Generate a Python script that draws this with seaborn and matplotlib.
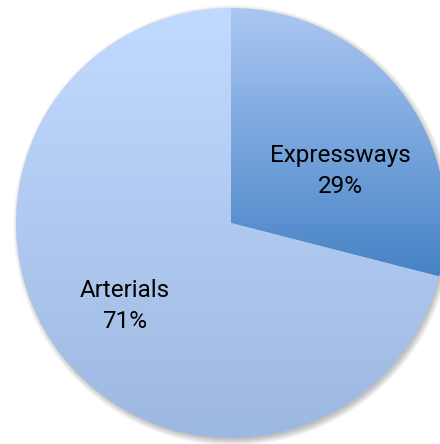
import numpy as np
import matplotlib
matplotlib.use("Agg")
import matplotlib.pyplot as plt
import seaborn as sns
from matplotlib.colors import LinearSegmentedColormap

categories = ["Expressways", "Arterials"]
shares = [29, 71]

sns.set_theme(style="white")
plt.rcParams["font.family"] = ["Roboto", "DejaVu Sans"]

W, H = 440, 444
fig = plt.figure(figsize=(W / 100, H / 100), dpi=100)
ax = fig.add_axes([0, 0, 1, 1])

cx, cy, R = 231, H - 223, 215

# soft drop shadow under the pie
yy, xx = np.mgrid[0:H, 0:W]
yy = H - yy - 0.5
xx = xx + 0.5
d = np.hypot(xx - (cx + 2), yy - (cy - 3)) - R
alpha = np.clip(1 - (d + 2) / 7, 0, 1) * 0.45
shadow = np.zeros((H, W, 4))
shadow[..., :3] = 0.45
shadow[..., 3] = alpha
ax.imshow(shadow, extent=[0, W, 0, H], origin="upper", zorder=0)

wedges, _ = ax.pie(shares, startangle=90, counterclock=False,
                   center=(cx, cy), radius=R, frame=True,
                   wedgeprops=dict(linewidth=0))
ax.set_xlim(0, W)
ax.set_ylim(0, H)
ax.set_aspect("equal")
ax.axis("off")

gradients = {
    "Expressways": ("#abc7f3", "#4683c6"),
    "Arterials": ("#c3daff", "#9db8e1"),
}
for w, name in zip(wedges, categories):
    w.set_facecolor("none")
    w.set_edgecolor("none")
    top, bottom = gradients[name]
    cmap = LinearSegmentedColormap.from_list(name, [top, bottom])
    bb = w.get_path().get_extents(w.get_transform() - ax.transData)
    grad = np.linspace(0, 1, 256).reshape(-1, 1)
    im = ax.imshow(grad, cmap=cmap, aspect="auto",
                   extent=[bb.x0, bb.x1, bb.y0, bb.y1], origin="upper",
                   zorder=1)
    im.set_clip_path(w)

label_pos = {"Expressways": (340, H - 171), "Arterials": (125, H - 306)}
for name, val in zip(categories, shares):
    x, y = label_pos[name]
    ax.text(x, y, f"{name}\n{val}%", ha="center", va="center",
            fontsize=17.5, color="black", linespacing=1.45, zorder=3)

fig.savefig("out.png", dpi=100)
